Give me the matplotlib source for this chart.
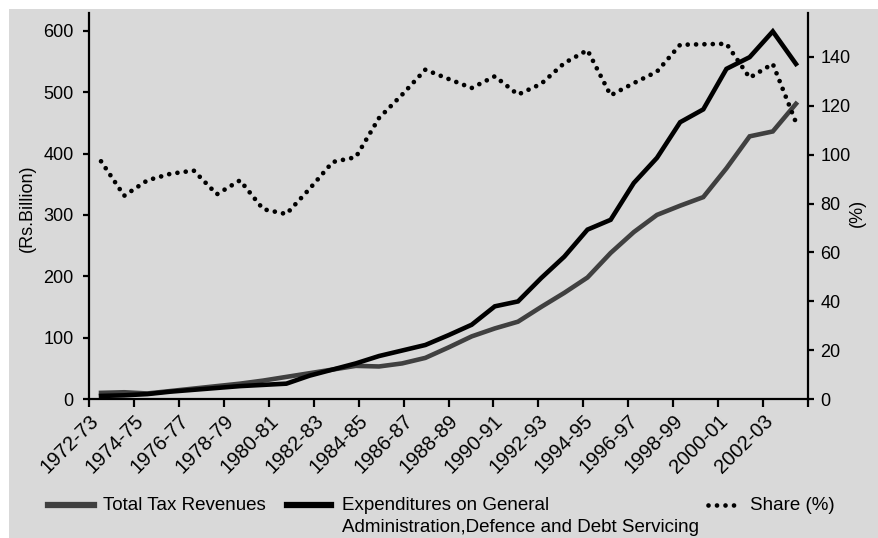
import numpy as np
import matplotlib
matplotlib.use("Agg")
import matplotlib.pyplot as plt
from matplotlib.lines import Line2D
from matplotlib.patches import Rectangle

plt.rcParams['font.family'] = ['Liberation Sans', 'DejaVu Sans']

# data (Rs. billion / %)
tick_labels = ["1972-73", "1974-75", "1976-77", "1978-79", "1980-81", "1982-83",
               "1984-85", "1986-87", "1988-89", "1990-91", "1992-93", "1994-95",
               "1996-97", "1998-99", "2000-01", "2002-03"]
tax_revenues = [10, 11, 9, 13, 17, 21, 25, 30, 36, 42, 48, 54, 53, 58, 67, 84,
                102, 115, 126, 150, 173, 198, 238, 272, 300, 315, 329, 376, 428, 436, 481]
expenditures = [5, 6, 8, 12, 15, 18, 21, 23, 25, 38, 48, 58, 70, 79, 88, 104,
                121, 151, 159, 197, 232, 276, 292, 352, 393, 451, 472, 538, 557, 599, 546]
share = [97.3, 83.2, 89.5, 92.2, 93.5, 83.8, 89.5, 77.7, 75.7, 86, 97, 99, 115, 124.6,
         134.8, 131, 127.3, 132.1, 124.6, 129, 137.5, 142.8, 124.3, 129.3, 134, 145,
         145.2, 145.4, 131.5, 137.2, 113.2]

BG = "#d9d9d9"
GREY = "#404040"
W, H = 879, 538

fig = plt.figure(figsize=(W / 100, H / 100), dpi=100, facecolor="white")
fig.add_artist(Rectangle((9 / W, 0), 1 - 9 / W, 1 - 9 / H, transform=fig.transFigure,
                         facecolor=BG, edgecolor="none", zorder=-10))

ax = fig.add_axes([89 / W, 139 / H, 719 / W, 386 / H])
ax.set_facecolor(BG)
ax2 = ax.twinx()

x = np.arange(len(tax_revenues))
ax.plot(x, tax_revenues, color=GREY, lw=3.3, solid_joinstyle="miter", zorder=3)
ax.plot(x, expenditures, color="black", lw=3.3, solid_joinstyle="miter", zorder=4)
ax2.plot(x, share, color="black", lw=3.4, linestyle=(0, (0.001, 1.77)),
         dash_capstyle="round", zorder=5)

xmin, xmax = -0.52, len(x) - 1 + 0.52
ax.set_xlim(xmin, xmax)
ax.set_ylim(0, 629)
ax2.set_ylim(0, 158)

ticks = np.linspace(xmin, xmax, 17)
ax.set_xticks(ticks)
ax.set_xticklabels(tick_labels + [""], rotation=45, ha="right",
                   rotation_mode="anchor", fontsize=14.5)
ax.set_yticks(range(0, 601, 100))
ax2.set_yticks(range(0, 141, 20))

for a in (ax, ax2):
    a.spines["top"].set_visible(False)
    for s in ("left", "right", "bottom"):
        a.spines[s].set_linewidth(1.6)
ax.spines["right"].set_visible(False)
ax2.spines["left"].set_visible(False)
ax2.spines["bottom"].set_visible(False)

ax.tick_params(axis="x", direction="out", length=6, width=1.6, pad=3)
ax.tick_params(axis="y", direction="out", length=4, width=1.6, pad=7, labelsize=13)
ax2.tick_params(axis="y", direction="out", length=4, width=1.6, pad=5, labelsize=13)

fig.text(27 / W, 1 - 208 / H, "(Rs.Billion)", rotation=90, ha="center", va="center",
         fontsize=13)
fig.text(857 / W, 1 - 213 / H, "(%)", rotation=90, ha="center", va="center",
         fontsize=13)

# legend drawn by hand to match the uneven layout
y1, y2 = 1 - 505 / H, 1 - 527 / H
fig.add_artist(Line2D([48 / W, 94 / W], [y1, y1], color=GREY, lw=4.5,
                      transform=fig.transFigure))
fig.add_artist(Line2D([287 / W, 331 / W], [y1, y1], color="black", lw=4.5,
                      transform=fig.transFigure))
fig.add_artist(Line2D([708 / W, 742 / W], [y1, y1], color="black", lw=3.4,
                      linestyle=(0, (0.001, 1.8)), dash_capstyle="round",
                      transform=fig.transFigure))
fig.text(103 / W, y1, "Total Tax Revenues", va="center", fontsize=13.5)
fig.text(342 / W, y1, "Expenditures on General", va="center", fontsize=13.5)
fig.text(342 / W, y2, "Administration,Defence and Debt Servicing", va="center",
         fontsize=13.5)
fig.text(835 / W, y1, "Share (%)", va="center", ha="right", fontsize=13.5)

fig.savefig("out.png", dpi=100, facecolor="white")
